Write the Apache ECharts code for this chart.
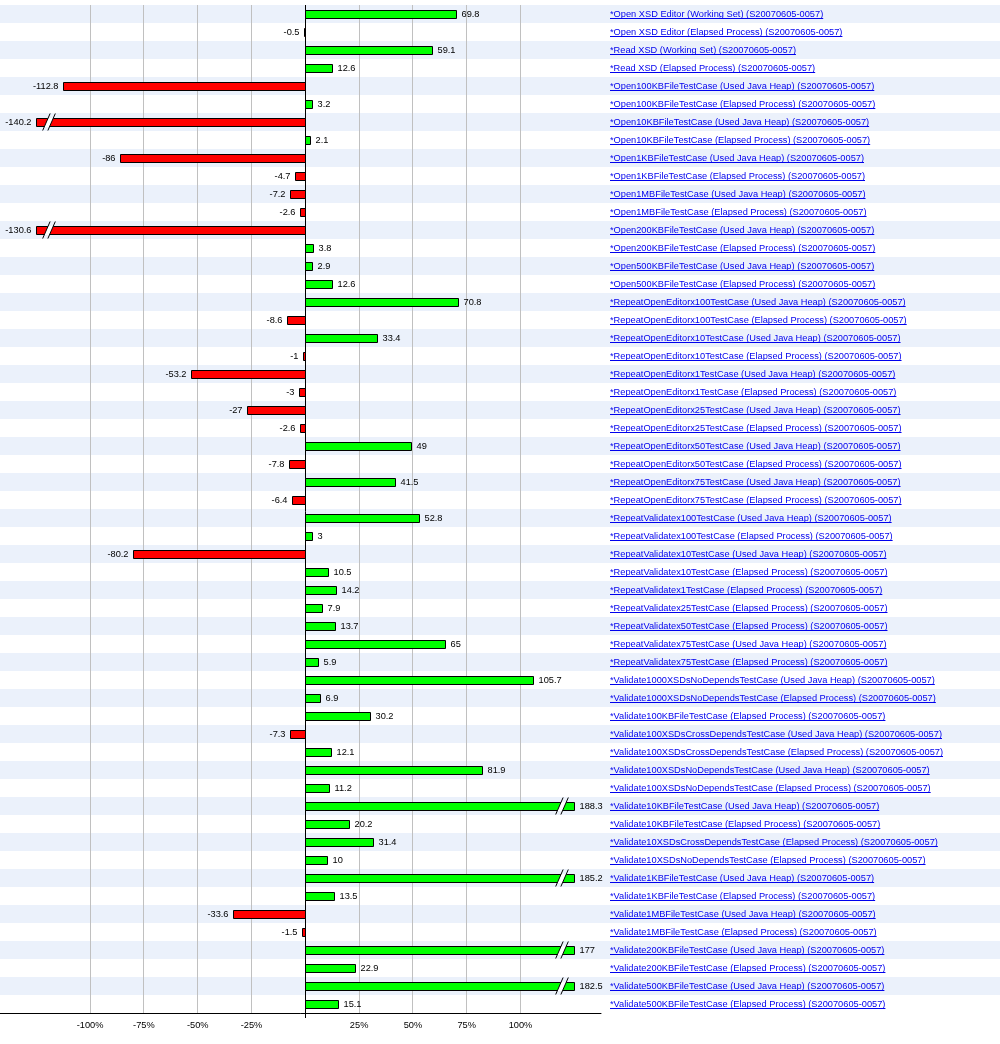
<!DOCTYPE html>
<html><head><meta charset="utf-8">
<script src="https://cdn.jsdelivr.net/npm/echarts@6/dist/echarts.min.js"></script>
<style>html,body{margin:0;padding:0;background:#fff}#c{width:1000px;height:1044px}</style>
</head><body><div id="c"></div><script>
const categories = [
  '*Open XSD Editor (Working Set) (S20070605-0057)',
  '*Open XSD Editor (Elapsed Process) (S20070605-0057)',
  '*Read XSD (Working Set) (S20070605-0057)',
  '*Read XSD (Elapsed Process) (S20070605-0057)',
  '*Open100KBFileTestCase (Used Java Heap) (S20070605-0057)',
  '*Open100KBFileTestCase (Elapsed Process) (S20070605-0057)',
  '*Open10KBFileTestCase (Used Java Heap) (S20070605-0057)',
  '*Open10KBFileTestCase (Elapsed Process) (S20070605-0057)',
  '*Open1KBFileTestCase (Used Java Heap) (S20070605-0057)',
  '*Open1KBFileTestCase (Elapsed Process) (S20070605-0057)',
  '*Open1MBFileTestCase (Used Java Heap) (S20070605-0057)',
  '*Open1MBFileTestCase (Elapsed Process) (S20070605-0057)',
  '*Open200KBFileTestCase (Used Java Heap) (S20070605-0057)',
  '*Open200KBFileTestCase (Elapsed Process) (S20070605-0057)',
  '*Open500KBFileTestCase (Used Java Heap) (S20070605-0057)',
  '*Open500KBFileTestCase (Elapsed Process) (S20070605-0057)',
  '*RepeatOpenEditorx100TestCase (Used Java Heap) (S20070605-0057)',
  '*RepeatOpenEditorx100TestCase (Elapsed Process) (S20070605-0057)',
  '*RepeatOpenEditorx10TestCase (Used Java Heap) (S20070605-0057)',
  '*RepeatOpenEditorx10TestCase (Elapsed Process) (S20070605-0057)',
  '*RepeatOpenEditorx1TestCase (Used Java Heap) (S20070605-0057)',
  '*RepeatOpenEditorx1TestCase (Elapsed Process) (S20070605-0057)',
  '*RepeatOpenEditorx25TestCase (Used Java Heap) (S20070605-0057)',
  '*RepeatOpenEditorx25TestCase (Elapsed Process) (S20070605-0057)',
  '*RepeatOpenEditorx50TestCase (Used Java Heap) (S20070605-0057)',
  '*RepeatOpenEditorx50TestCase (Elapsed Process) (S20070605-0057)',
  '*RepeatOpenEditorx75TestCase (Used Java Heap) (S20070605-0057)',
  '*RepeatOpenEditorx75TestCase (Elapsed Process) (S20070605-0057)',
  '*RepeatValidatex100TestCase (Used Java Heap) (S20070605-0057)',
  '*RepeatValidatex100TestCase (Elapsed Process) (S20070605-0057)',
  '*RepeatValidatex10TestCase (Used Java Heap) (S20070605-0057)',
  '*RepeatValidatex10TestCase (Elapsed Process) (S20070605-0057)',
  '*RepeatValidatex1TestCase (Elapsed Process) (S20070605-0057)',
  '*RepeatValidatex25TestCase (Elapsed Process) (S20070605-0057)',
  '*RepeatValidatex50TestCase (Elapsed Process) (S20070605-0057)',
  '*RepeatValidatex75TestCase (Used Java Heap) (S20070605-0057)',
  '*RepeatValidatex75TestCase (Elapsed Process) (S20070605-0057)',
  '*Validate1000XSDsNoDependsTestCase (Used Java Heap) (S20070605-0057)',
  '*Validate1000XSDsNoDependsTestCase (Elapsed Process) (S20070605-0057)',
  '*Validate100KBFileTestCase (Elapsed Process) (S20070605-0057)',
  '*Validate100XSDsCrossDependsTestCase (Used Java Heap) (S20070605-0057)',
  '*Validate100XSDsCrossDependsTestCase (Elapsed Process) (S20070605-0057)',
  '*Validate100XSDsNoDependsTestCase (Used Java Heap) (S20070605-0057)',
  '*Validate100XSDsNoDependsTestCase (Elapsed Process) (S20070605-0057)',
  '*Validate10KBFileTestCase (Used Java Heap) (S20070605-0057)',
  '*Validate10KBFileTestCase (Elapsed Process) (S20070605-0057)',
  '*Validate10XSDsCrossDependsTestCase (Elapsed Process) (S20070605-0057)',
  '*Validate10XSDsNoDependsTestCase (Elapsed Process) (S20070605-0057)',
  '*Validate1KBFileTestCase (Used Java Heap) (S20070605-0057)',
  '*Validate1KBFileTestCase (Elapsed Process) (S20070605-0057)',
  '*Validate1MBFileTestCase (Used Java Heap) (S20070605-0057)',
  '*Validate1MBFileTestCase (Elapsed Process) (S20070605-0057)',
  '*Validate200KBFileTestCase (Used Java Heap) (S20070605-0057)',
  '*Validate200KBFileTestCase (Elapsed Process) (S20070605-0057)',
  '*Validate500KBFileTestCase (Used Java Heap) (S20070605-0057)',
  '*Validate500KBFileTestCase (Elapsed Process) (S20070605-0057)'
];
const values = [
  69.8, -0.5, 59.1, 12.6, -112.8, 3.2, -140.2, 2.1, -86, -4.7,
  -7.2, -2.6, -130.6, 3.8, 2.9, 12.6, 70.8, -8.6, 33.4, -1,
  -53.2, -3, -27, -2.6, 49, -7.8, 41.5, -6.4, 52.8, 3,
  -80.2, 10.5, 14.2, 7.9, 13.7, 65, 5.9, 105.7, 6.9, 30.2,
  -7.3, 12.1, 81.9, 11.2, 188.3, 20.2, 31.4, 10, 185.2, 13.5,
  -33.6, -1.5, 177, 22.9, 182.5, 15.1
];
const gridTicks = [-100, -75, -50, -25, 25, 50, 75, 100];
const clipLimit = 125;

const FONT = '"Liberation Sans", Arial, sans-serif';
const FS = 9.25;
const LINK = '#0000ee';
const STRIPE = '#ebf1fb';

const measureCtx = document.createElement('canvas').getContext('2d');
measureCtx.font = FS + 'px ' + FONT;
function textWidth(s) { return measureCtx.measureText(s).width; }

function renderStripe(params, api) {
  const i = api.value(1);
  const p = api.coord([0, i]);
  const h = api.size([0, 1])[1];
  const cy = p[1];
  const cs = params.coordSys;
  const lx = cs.x + cs.width + 9;
  const uy = Math.floor(cy) + 4.5;
  return {
    type: 'group',
    children: [
      { type: 'rect', shape: { x: 0, y: cy - h / 2, width: api.getWidth(), height: h },
        style: { fill: i % 2 === 0 ? STRIPE : '#ffffff' } },
      { type: 'line', shape: { x1: lx, y1: uy, x2: lx + textWidth(categories[i]), y2: uy },
        style: { stroke: LINK, lineWidth: 1 } }
    ]
  };
}

function renderGrid(params, api) {
  const v = api.value(0);
  const p = api.coord([v, 0]);
  const cs = params.coordSys;
  const x = Math.floor(p[0]) + 0.5;
  return { type: 'line', shape: { x1: x, y1: cs.y, x2: x, y2: cs.y + cs.height },
    style: { stroke: '#c0c0c0', lineWidth: 1 } };
}

function renderZero(params, api) {
  const p = api.coord([0, 0]);
  const cs = params.coordSys;
  const x = Math.floor(p[0]) + 0.5;
  return { type: 'line', shape: { x1: x, y1: cs.y, x2: x, y2: cs.y + cs.height + 5 },
    style: { stroke: '#000', lineWidth: 1 } };
}

function renderBar(params, api) {
  const v = api.value(0);
  const i = api.value(1);
  const cv = Math.max(-clipLimit, Math.min(clipLimit, v));
  const p0 = api.coord([0, i]);
  const p1 = api.coord([cv, i]);
  const cy = Math.floor(p0[1]);
  const x0 = Math.floor(p0[0]) + 0.5;
  const x1 = Math.round(p1[0]) + 0.5;
  const dir = v >= 0 ? 1 : -1;
  const top = cy - 3.5;
  const children = [
    { type: 'rect', shape: { x: Math.min(x0, x1), y: top, width: Math.abs(x1 - x0), height: 8 },
      style: { fill: v >= 0 ? '#00ff00' : '#ff0000', stroke: '#000', lineWidth: 1 } }
  ];
  if (Math.abs(v) > clipLimit) {
    const bx = x1 - dir * 12.5;
    const k = 3.5 / 8;
    const gx = 2.6;
    const xAt = (off, y) => bx + off - (y - cy) * k;
    const yt = top - 0.5, yb = top + 8.5;
    children.push({ type: 'polygon', shape: { points: [
        [xAt(-gx, yt), yt], [xAt(gx, yt), yt], [xAt(gx, yb), yb], [xAt(-gx, yb), yb] ] },
      style: { fill: '#ffffff' } });
    [-gx, gx].forEach(off => {
      children.push({ type: 'line', shape: { x1: xAt(off, cy + 8.5), y1: cy + 8.5, x2: xAt(off, cy - 8.5), y2: cy - 8.5 },
        style: { stroke: '#000', lineWidth: 1 } });
    });
  }
  children.push({ type: 'text', style: {
    text: String(v), x: x1 + dir * 5, y: cy + 0.5,
    align: dir > 0 ? 'left' : 'right', verticalAlign: 'middle',
    fill: '#000', fontSize: FS, fontFamily: FONT } });
  return { type: 'group', children };
}

const chart = echarts.init(document.getElementById('c'));
chart.setOption({
  animation: false,
  grid: { left: -17.5, right: 399, top: 5, bottom: 31, containLabel: false, outerBoundsMode: 'none' },
  xAxis: {
    type: 'value', min: -150, max: 137.4, interval: 25,
    axisLine: { show: true, onZero: false, lineStyle: { color: '#000', width: 1 } },
    axisTick: { show: false },
    splitLine: { show: false },
    axisLabel: {
      margin: 8, fontSize: FS, color: '#000', fontFamily: FONT,
      formatter: v => (Math.abs(v) > 100.01 || Math.abs(v) < 0.01) ? '' : (Math.round(v) + '%')
    }
  },
  yAxis: {
    type: 'category', data: categories, inverse: true, position: 'right',
    axisLine: { show: false }, axisTick: { show: false }, splitLine: { show: false },
    axisLabel: { margin: 9, align: 'left', fontSize: FS, color: LINK, fontFamily: FONT, interval: 0 }
  },
  series: [
    { type: 'custom', name: 'rows', clip: false, z: 0, silent: true,
      data: categories.map((c, i) => [0, i]), encode: { x: 0, y: 1 }, renderItem: renderStripe },
    { type: 'custom', name: 'grid', clip: false, z: 1, silent: true,
      data: gridTicks.map(t => [t, 0]), encode: { x: 0, y: 1 }, renderItem: renderGrid },
    { type: 'custom', name: 'zero', clip: false, z: 2, silent: true,
      data: [[0, 0]], encode: { x: 0, y: 1 }, renderItem: renderZero },
    { type: 'custom', name: 'change', clip: false, z: 3,
      data: values.map((v, i) => [v, i]), encode: { x: 0, y: 1 }, renderItem: renderBar }
  ]
});
</script></body></html>
